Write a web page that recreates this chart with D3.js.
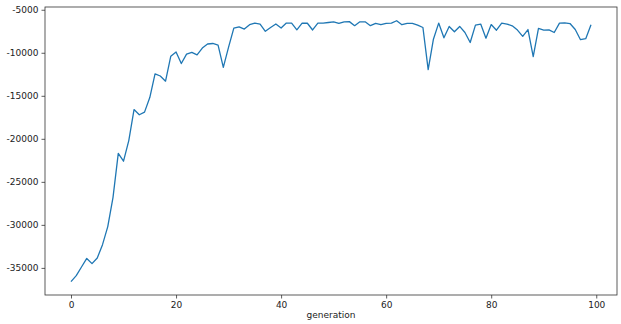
<!DOCTYPE html>
<html>
<head>
<meta charset="utf-8">
<script src="https://cdn.jsdelivr.net/npm/d3@7"></script>
<style>
  body { margin: 0; background: #fff; }
  svg text { font-family: "DejaVu Sans", sans-serif; fill: #222; }
</style>
</head>
<body>
<div id="chart"></div>
<script>
const generations = d3.range(100);
const fitness = [
  -36600, -35900, -34900, -33900, -34500, -33850, -32300, -30200, -26800, -21700,
  -22600, -20200, -16600, -17200, -16900, -15200, -12450, -12700, -13300, -10400,
  -9900, -11250, -10150, -9950, -10250, -9450, -8980, -8920, -9100, -11700,
  -9350, -7130, -6980, -7250, -6740, -6550, -6660, -7500, -7060, -6660,
  -7130, -6550, -6550, -7330, -6550, -6570, -7350, -6550, -6550, -6480,
  -6400, -6590, -6400, -6380, -6850, -6400, -6400, -6850, -6590, -6740,
  -6590, -6560, -6280, -6740, -6590, -6590, -6780, -7060, -11950, -8420,
  -6550, -8260, -6940, -7560, -6940, -7640, -8800, -6780, -6660, -8300,
  -6720, -7380, -6550, -6660, -6860, -7360, -8100, -7300, -10450, -7170,
  -7360, -7330, -7640, -6560, -6520, -6600, -7300, -8480, -8360, -6740
];
const xTicks = [0, 20, 40, 60, 80, 100];
const yTicks = [-35000, -30000, -25000, -20000, -15000, -10000, -5000];

const W = 621, H = 324;
const margin = { top: 7, right: 4, bottom: 29, left: 45 };
const width = W - margin.left - margin.right,
      height = H - margin.top - margin.bottom;

const svg = d3.select("#chart")
  .append("svg")
  .attr("width", W)
  .attr("height", H)
  .append("g")
  .attr("transform", `translate(${margin.left}, ${margin.top})`);

const x = d3.scaleLinear()
  .domain([-4.95, 103.95])
  .range([0, width]);

const y = d3.scaleLinear()
  .domain([-38150, -4680])
  .range([height, 0]);

const xAxis = svg.append("g")
  .attr("transform", `translate(0, ${height})`)
  .call(d3.axisBottom(x).tickValues(xTicks).tickSize(3.5).tickPadding(3).tickFormat(d3.format("d")));
const yAxis = svg.append("g")
  .call(d3.axisLeft(y).tickValues(yTicks).tickSize(3.5).tickPadding(3).tickFormat(d => d3.format("d")(d).replace("−", "-")));

[xAxis, yAxis].forEach(a => {
  a.selectAll("text").style("font-size", "9px").style("fill", "#222");
  a.selectAll("line").style("stroke", "#333").style("stroke-width", 0.8);
  a.select(".domain").remove();
});

// frame
svg.append("rect")
  .attr("width", width)
  .attr("height", height)
  .style("fill", "none")
  .style("stroke", "#333")
  .style("stroke-width", 0.8);

const line = d3.line()
  .x((d, i) => x(generations[i]))
  .y(d => y(d));

svg.append("path")
  .datum(fitness)
  .attr("d", line)
  .style("fill", "none")
  .style("stroke", "#1f77b4")
  .style("stroke-width", 1.3)
  .style("stroke-linejoin", "round");

svg.append("text")
  .attr("x", width / 2)
  .attr("y", height + 23)
  .attr("text-anchor", "middle")
  .style("font-size", "9px")
  .text("generation");
</script>
</body>
</html>
